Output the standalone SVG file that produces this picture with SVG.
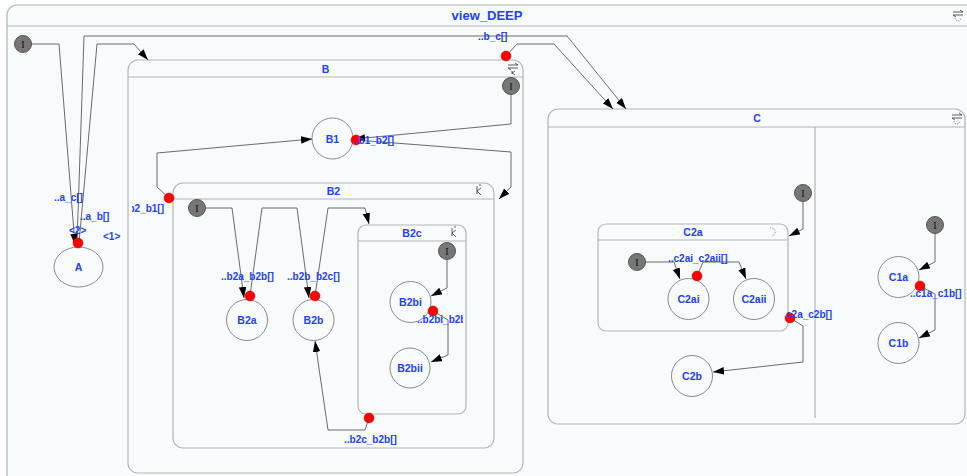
<svg xmlns="http://www.w3.org/2000/svg" width="967" height="476" viewBox="0 0 967 476">
  <style>
    .frame { fill: #f8fbfc; stroke: #b4b4b4; stroke-width: 1.2; }
    .hdr { stroke: #b4b4b4; stroke-width: 1.2; fill: none; }
    .state { fill: #f8fbfc; stroke: #8a8a8a; stroke-width: 1; }
    .init { fill: #777; stroke: #555; stroke-width: 1; }
    .initT { font-family: "Liberation Serif", serif; font-size: 10px; fill: #111; text-anchor: middle; }
    .title { font-family: "Liberation Sans", Arial, sans-serif; font-weight: bold; font-size: 10.5px; fill: #2040ff; text-anchor: middle; }
    .big { font-size: 13px; }
    .lbl { font-family: "Liberation Sans", Arial, sans-serif; font-weight: bold; font-size: 10px; fill: #2040ff; }
    .tr { fill: none; stroke: #5a5a5a; stroke-width: 0.9; }
    .arr { fill: none; stroke: #5a5a5a; stroke-width: 0.9; marker-end: url(#ah); }
    .dot { fill: #f00; stroke: #c00; stroke-width: 0.5; }
    .ico { fill: none; stroke: #333; stroke-width: 0.8; }
    .icod { fill: none; stroke: #555; stroke-width: 0.7; stroke-dasharray: 1.2 1.2; }
  </style>
  <defs>
    <marker id="ah" markerWidth="12" markerHeight="8" refX="11" refY="3.75" orient="auto" markerUnits="userSpaceOnUse">
      <path d="M0,0 L11,3.75 L0,7.5 z" fill="#000"/>
    </marker>
    <clipPath id="clipB"><rect x="132" y="0" width="900" height="476"/></clipPath>
    <clipPath id="clipB2c"><rect x="0" y="0" width="463" height="476"/></clipPath>
    <clipPath id="clipB2b"><rect x="0" y="0" width="397" height="476"/></clipPath>
    <clipPath id="clipC2a"><rect x="785.5" y="0" width="300" height="476"/></clipPath>
  </defs>

  <rect x="0" y="0" width="967" height="476" fill="#ffffff"/>

  <!-- top level view -->
  <g id="view_DEEP">
    <rect class="frame" x="7" y="5" width="990" height="500" rx="10"/>
    <line class="hdr" x1="7" y1="26" x2="967" y2="26"/>
    <text class="title big" x="487" y="20">view_DEEP</text>
    <g transform="translate(952,9)">
      <path class="ico" d="M1,3 H11 M1,6 H11 M8,1 L11,3 M4,8 L1,6"/>
      <path class="icod" d="M3,9 A3,3 0 1 0 9,9"/>
    </g>
  </g>

  <g id="init_top">
    <circle class="init" cx="23" cy="44" r="8.5"/>
    <text class="initT" x="23" y="47.5">I</text>
  </g>

  <g id="A">
    <ellipse class="state" cx="78.5" cy="267" rx="24.5" ry="20"/>
    <text class="title" x="78.5" y="271">A</text>
  </g>

  <!-- composite B -->
  <g id="B">
    <rect class="frame" x="128" y="60" width="395" height="413" rx="10"/>
    <line class="hdr" x1="128" y1="77" x2="523" y2="77"/>
    <text class="title" x="325.5" y="73">B</text>
    <g transform="translate(507,61)">
      <path class="ico" d="M1,4 H11 M1,7 H11 M8,2 L11,4 M4,9 L1,7 M5,10 V13 M5,12 L8,10 M5,12 L8,14"/>
    </g>
    <g id="B_init">
      <circle class="init" cx="511" cy="86" r="8.5"/>
      <text class="initT" x="511" y="89.5">I</text>
    </g>
    <g id="B1">
      <circle class="state" cx="332.5" cy="138.5" r="20.5"/>
      <text class="title" x="332.5" y="142.5">B1</text>
    </g>

    <g id="B2">
      <rect class="frame" x="173" y="183" width="321" height="265" rx="10"/>
      <line class="hdr" x1="173" y1="199" x2="494" y2="199"/>
      <text class="title" x="333.5" y="195">B2</text>
      <path class="ico" d="M477,186 V194 M477,191 L481,188 M477,191 L481,195 M479,185 H481"/>
      <g id="B2_init">
        <circle class="init" cx="197" cy="208" r="8.5"/>
        <text class="initT" x="197" y="211.5">I</text>
      </g>
      <g id="B2a">
        <circle class="state" cx="247" cy="320" r="20.5"/>
        <text class="title" x="247" y="324">B2a</text>
      </g>
      <g id="B2b">
        <circle class="state" cx="313.5" cy="320" r="20.5"/>
        <text class="title" x="313.5" y="324">B2b</text>
      </g>

      <g id="B2c">
        <rect class="frame" x="358" y="225" width="108" height="189" rx="8"/>
        <line class="hdr" x1="358" y1="241" x2="466" y2="241"/>
        <text class="title" x="412" y="237">B2c</text>
        <path class="ico" d="M452,228 V236 M452,233 L456,230 M452,233 L456,237 M454,227 H456"/>
        <g id="B2c_init">
          <circle class="init" cx="447" cy="251" r="8.5"/>
          <text class="initT" x="447" y="254.5">I</text>
        </g>
        <g id="B2bi">
          <circle class="state" cx="410.5" cy="302" r="20.5"/>
          <text class="title" x="410.5" y="306">B2bi</text>
        </g>
        <g id="B2bii">
          <circle class="state" cx="410" cy="368" r="20"/>
          <text class="title" x="410" y="372">B2bii</text>
        </g>
      </g>
    </g>
  </g>

  <!-- composite C with two regions -->
  <g id="C">
    <rect class="frame" x="548" y="109" width="417" height="315" rx="10"/>
    <line class="hdr" x1="548" y1="127" x2="965" y2="127"/>
    <line class="hdr" x1="815" y1="127" x2="815" y2="418"/>
    <text class="title" x="757" y="122">C</text>
    <g transform="translate(951,111)">
      <path class="ico" d="M1,4 H11 M1,7 H11 M8,2 L11,4 M4,9 L1,7"/>
      <path class="icod" d="M3,10 A3,3 0 1 0 9,10"/>
    </g>
    <g id="C_init">
      <circle class="init" cx="803" cy="193" r="8.5"/>
      <text class="initT" x="803" y="196.5">I</text>
    </g>
    <g id="C2a">
      <rect class="frame" x="598" y="224" width="190" height="107" rx="8"/>
      <line class="hdr" x1="598" y1="240" x2="788" y2="240"/>
      <text class="title" x="693" y="236">C2a</text>
      <path class="icod" d="M770,228 A4,4 0 1 1 772,236"/>
      <g id="C2a_init">
        <circle class="init" cx="637" cy="262" r="8.5"/>
        <text class="initT" x="637" y="265.5">I</text>
      </g>
      <g id="C2ai">
        <circle class="state" cx="688.5" cy="299" r="20.5"/>
        <text class="title" x="688.5" y="303">C2ai</text>
      </g>
      <g id="C2aii">
        <circle class="state" cx="754" cy="299" r="20.5"/>
        <text class="title" x="754" y="303">C2aii</text>
      </g>
    </g>
    <g id="C2b">
      <circle class="state" cx="692" cy="376" r="20.5"/>
      <text class="title" x="692" y="380">C2b</text>
    </g>
    <g id="C1_init">
      <circle class="init" cx="935" cy="225" r="8.5"/>
      <text class="initT" x="935" y="228.5">I</text>
    </g>
    <g id="C1a">
      <circle class="state" cx="898.5" cy="277" r="20.5"/>
      <text class="title" x="898.5" y="281">C1a</text>
    </g>
    <g id="C1b">
      <circle class="state" cx="898.5" cy="343" r="20.5"/>
      <text class="title" x="898.5" y="347">C1b</text>
    </g>
  </g>

  <!-- transitions -->
  <g id="connectors">
    <!-- top level -->
    <polyline class="arr" points="31.5,44 59,44 75,245"/>
    <polyline class="arr" points="77,243 84,36 567,36 626,109"/>
    <polyline class="arr" points="79,243 97,44 134,44 148,60"/>
    <circle class="dot" cx="78" cy="243" r="5"/>
    <text class="lbl" x="54" y="201">..a_c[]</text>
    <text class="lbl" x="80" y="219.5">..a_b[]</text>
    <text class="lbl" x="69" y="234">&lt;2&gt;</text>
    <text class="lbl" x="103" y="240">&lt;1&gt;</text>

    <polyline class="arr" points="506,56 517,44 554,44 613,109"/>
    <circle class="dot" cx="506" cy="56" r="5"/>
    <text class="lbl" x="478" y="40">..b_c[]</text>

    <!-- inside B -->
    <polyline class="arr" points="511,94.5 511,124 354,139"/>
    <polyline class="arr" points="356,140 511,152 511,187 499,199"/>
    <circle class="dot" cx="356" cy="140" r="5"/>
    <text class="lbl" x="353" y="144">..b1_b2[]</text>

    <polyline class="arr" points="169,198 157,187 157,153 312,139"/>
    <circle class="dot" cx="169" cy="198" r="5"/>
    <text class="lbl" x="164" y="211.5" text-anchor="end" clip-path="url(#clipB)">..b2_b1[]</text>

    <!-- inside B2 -->
    <polyline class="arr" points="205.5,208 232,208 244,298"/>
    <polyline class="arr" points="250,296 262,208 297,208 309,298"/>
    <circle class="dot" cx="250" cy="296" r="5"/>
    <text class="lbl" x="221" y="280">..b2a_b2b[]</text>
    <polyline class="arr" points="315,296 328,208 365,208 369,224"/>
    <circle class="dot" cx="315" cy="296" r="5"/>
    <text class="lbl" x="287" y="280">..b2b_b2c[]</text>
    <polyline class="arr" points="369,418 365,430 328,430 315,341"/>
    <circle class="dot" cx="369" cy="418" r="5"/>
    <text class="lbl" x="344" y="443" clip-path="url(#clipB2b)">..b2c_b2b[]</text>

    <!-- inside B2c -->
    <polyline class="arr" points="447,259.5 447,288 431,296"/>
    <polyline class="arr" points="433,311 448,320 448,355 431,362"/>
    <circle class="dot" cx="433" cy="311" r="5"/>
    <text class="lbl" x="417" y="323" clip-path="url(#clipB2c)">..b2bi_b2bii[]</text>

    <!-- inside C -->
    <polyline class="arr" points="803,201.5 803,229 789,236"/>
    <polyline class="arr" points="645.5,262 674,262 680,279"/>
    <polyline class="arr" points="697,276 703,262 739,262 746,279"/>
    <circle class="dot" cx="697" cy="276" r="5"/>
    <text class="lbl" x="668" y="262">..c2ai_c2aii[]</text>

    <polyline class="arr" points="790,318 803,326 803,362 713,372"/>
    <circle class="dot" cx="790" cy="318" r="5"/>
    <text class="lbl" x="780.5" y="318" clip-path="url(#clipC2a)">..c2a_c2b[]</text>

    <polyline class="arr" points="935,233.5 935,262 919,270"/>
    <polyline class="arr" points="920,286 935,294 935,330 919,338"/>
    <circle class="dot" cx="920" cy="286" r="5"/>
    <text class="lbl" x="910" y="297">..c1a_c1b[]</text>
  </g>
</svg>
